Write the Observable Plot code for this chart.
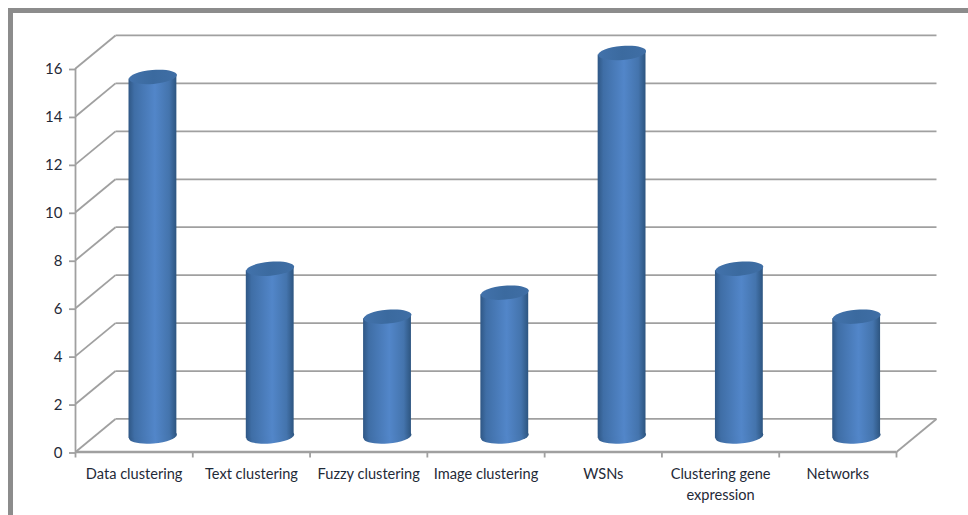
<!DOCTYPE html>
<html>
<head>
<meta charset="utf-8">
<script src="https://cdn.jsdelivr.net/npm/d3@7"></script>
<script src="https://cdn.jsdelivr.net/npm/@observablehq/plot@0.6"></script>
<style>
  html, body { margin: 0; padding: 0; background: #fff; overflow: hidden; }
  #chart { position: absolute; left: 0; top: 0; width: 968px; height: 515px; }
  #chart svg { display: block; background: transparent; }
  #border { position: absolute; left: 8px; top: 8px; right: 0; bottom: 0; border-left: 5px solid #8c8c8c; border-top: 5px solid #8c8c8c; }
</style>
</head>
<body>
<div id="border"></div>
<div id="chart"></div>
<script>
// Research topics and their counts
const categories = ["Data clustering", "Text clustering", "Fuzzy clustering", "Image clustering", "WSNs", "Clustering gene\nexpression", "Networks"];
const counts = [15, 7, 5, 6, 16, 7, 5];
const yTicks = [0, 2, 4, 6, 8, 10, 12, 14, 16];
const xBoundaries = [0, 1, 2, 3, 4, 5, 6, 7];

// Oblique projection of the chart's depth, expressed in axis units
const depthX = 0.341;
const depthY = 1.378;
const barDepth = 0.47;  // cylinders stand just in front of the middle of the floor
const halfBar = 0.204;
const capTilt = 5;     // degrees
const capLift = 0.087; // rise of a cap's tips either side of its centre, in y units
const gridColor = "#a0a0a0";

const bars = categories.map((name, i) => ({
  name,
  value: counts[i],
  mid: i + 0.5 + depthX * barDepth,
  base: depthY * barDepth,
  top: counts[i] + depthY * barDepth
}));

// Each wall is a two-point area whose ends follow the tilt of the caps
const walls = bars.flatMap((d) => [
  { name: d.name, x: d.mid - halfBar, y1: d.base - capLift, y2: d.top - capLift },
  { name: d.name, x: d.mid + halfBar, y1: d.base + capLift, y2: d.top + capLift }
]);

// A slightly tilted ellipse, used for the ends of each cylinder
const tiltedEllipse = {
  draw(ctx, size) {
    const rx = Math.sqrt(size / Math.PI), ry = rx * 0.29;
    const t = -capTilt * Math.PI / 180, c = Math.cos(t), s = Math.sin(t), k = 0.5523;
    const p = (x, y) => [x * c - y * s, x * s + y * c];
    ctx.moveTo(...p(rx, 0));
    ctx.bezierCurveTo(...p(rx, k * ry), ...p(k * rx, ry), ...p(0, ry));
    ctx.bezierCurveTo(...p(-k * rx, ry), ...p(-rx, k * ry), ...p(-rx, 0));
    ctx.bezierCurveTo(...p(-rx, -k * ry), ...p(-k * rx, -ry), ...p(0, -ry));
    ctx.bezierCurveTo(...p(k * rx, -ry), ...p(rx, -k * ry), ...p(rx, 0));
    ctx.closePath();
  }
};

// Horizontal shading for the cylinder walls and caps
const gradients = () => {
  const ns = "http://www.w3.org/2000/svg";
  const defs = document.createElementNS(ns, "defs");
  const add = (id, stops) => {
    const g = document.createElementNS(ns, "linearGradient");
    g.setAttribute("id", id);
    stops.forEach(([offset, color]) => {
      const s = document.createElementNS(ns, "stop");
      s.setAttribute("offset", offset);
      s.setAttribute("stop-color", color);
      g.appendChild(s);
    });
    defs.appendChild(g);
  };
  add("wall", [[0, "#2f5785"], [0.12, "#3f6ea6"], [0.55, "#5286c9"], [0.85, "#4474ad"], [1, "#2d5580"]]);
  add("cap", [[0, "#4272ab"], [0.5, "#3b6a9f"], [1, "#3f6ea5"]]);
  return defs;
};

const plot = Plot.plot({
  width: 968,
  height: 515,
  marginLeft: 75,
  marginRight: 72,
  marginTop: 68,
  marginBottom: 63.5,
  style: { fontFamily: "Lato, sans-serif", background: "transparent", overflow: "visible" },
  x: { type: "linear", domain: [0, 7] },
  y: { type: "linear", domain: [0, 16] },
  marks: [
    gradients,
    // Back wall and side wall grid lines
    Plot.link(yTicks, { x1: () => depthX, x2: () => 7 + depthX, y1: d => d + depthY, y2: d => d + depthY, stroke: gridColor, strokeWidth: 1.8 }),
    Plot.link(yTicks, { x1: () => 0, x2: () => depthX, y1: d => d, y2: d => d + depthY, stroke: gridColor, strokeWidth: 1.8 }),
    // Right edge of the floor
    Plot.link(xBoundaries.slice(-1), { x1: d => d, x2: d => d + depthX, y1: () => 0, y2: () => depthY, stroke: gridColor, strokeWidth: 1.8 }),
    // Front axis lines
    Plot.ruleX([0], { y1: 0, y2: 16, stroke: gridColor, strokeWidth: 1.8 }),
    Plot.ruleY([0], { x1: 0, x2: 7, stroke: gridColor, strokeWidth: 2.4 }),
    Plot.axisX({ ticks: xBoundaries, tickSize: 6, tickFormat: () => "", stroke: gridColor, strokeWidth: 1.8, label: null }),
    Plot.axisY({ ticks: yTicks, tickSize: 6, tickPadding: 7, stroke: gridColor, strokeWidth: 1.8, fill: "#1f2a38", fontSize: 15, dy: 1, label: null }),
    // Cylinders: lower cap, wall, upper cap
    Plot.dot(bars, { x: "mid", y: "base", r: 24, symbol: tiltedEllipse, fill: "url(#wall)", stroke: "none" }),
    Plot.area(walls, { x1: "x", y1: "y1", y2: "y2", z: "name", fill: "url(#wall)" }),
    Plot.dot(bars, { x: "mid", y: "top", r: 24, symbol: tiltedEllipse, fill: "url(#cap)", stroke: "none" }),
    // Category labels
    Plot.text(bars, {
      x: (d, i) => i + 0.5,
      y: () => 0,
      text: "name",
      dy: 12,
      lineAnchor: "top",
      lineHeight: 1.45,
      fontSize: 14.6,
      fill: "#1f2a38"
    })
  ]
});
document.getElementById("chart").appendChild(plot);
</script>
</body>
</html>
